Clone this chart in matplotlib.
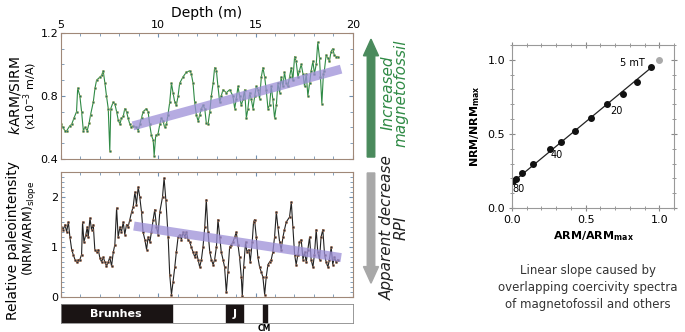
import numpy as np
import matplotlib.pyplot as plt
from matplotlib.ticker import MultipleLocator
from matplotlib.patches import FancyArrow

# kARM/SIRM vs depth
top_depth = [5.00, 5.10, 5.20, 5.30, 5.45, 5.55, 5.67, 5.80, 5.86, 5.97, 6.06, 6.15, 6.23, 6.35,
             6.45, 6.52, 6.66, 6.75, 6.83, 7.00, 7.09, 7.17, 7.26, 7.34, 7.43, 7.51, 7.56, 7.68,
             7.77, 7.86, 7.94, 8.03, 8.11, 8.20, 8.28, 8.37, 8.45, 8.54, 8.62, 8.71, 8.88, 8.97,
             9.05, 9.14, 9.22, 9.39, 9.48, 9.56, 9.65, 9.74, 9.79, 9.87, 9.99, 10.08, 10.16,
             10.25, 10.33, 10.42, 10.50, 10.59, 10.68, 10.76, 10.85, 10.93, 11.02, 11.10, 11.27,
             11.44, 11.62, 11.70, 11.79, 11.87, 11.96, 12.05, 12.13, 12.22, 12.30, 12.39, 12.47,
             12.56, 12.65, 12.73, 12.82, 12.90, 12.99, 13.07, 13.16, 13.24, 13.33, 13.50, 13.67,
             13.84, 13.93, 14.01, 14.10, 14.18, 14.27, 14.36, 14.44, 14.53, 14.61, 14.70, 14.78,
             14.87, 14.96, 15.04, 15.13, 15.21, 15.30, 15.38, 15.47, 15.55, 15.64, 15.72, 15.81,
             15.89, 15.98, 16.07, 16.15, 16.24, 16.32, 16.41, 16.49, 16.58, 16.66, 16.75, 16.84,
             16.92, 17.01, 17.09, 17.18, 17.26, 17.35, 17.44, 17.52, 17.61, 17.69, 17.78, 17.86,
             17.95, 18.03, 18.12, 18.20, 18.29, 18.34, 18.41, 18.49, 18.54, 18.63, 18.71, 18.80,
             18.88, 18.97, 19.05, 19.14, 19.22]
top_val = [0.62, 0.60, 0.58, 0.58, 0.61, 0.62, 0.66, 0.70, 0.85, 0.80, 0.70, 0.58, 0.60, 0.58,
           0.63, 0.68, 0.76, 0.85, 0.90, 0.92, 0.93, 0.96, 0.88, 0.80, 0.72, 0.45, 0.72, 0.76,
           0.75, 0.70, 0.65, 0.62, 0.66, 0.67, 0.72, 0.70, 0.66, 0.62, 0.60, 0.61, 0.60, 0.58,
           0.62, 0.66, 0.70, 0.72, 0.70, 0.62, 0.55, 0.52, 0.42, 0.55, 0.56, 0.62, 0.66,
           0.64, 0.60, 0.62, 0.68, 0.76, 0.88, 0.82, 0.76, 0.74, 0.80, 0.88, 0.92,
           0.95, 0.96, 0.94, 0.88, 0.76, 0.68, 0.64, 0.68, 0.72, 0.74, 0.72, 0.63,
           0.62, 0.70, 0.80, 0.88, 0.98, 0.96, 0.86, 0.76, 0.80, 0.84, 0.82, 0.84,
           0.80, 0.72, 0.78, 0.86, 0.80, 0.74, 0.78, 0.84, 0.66, 0.72, 0.82, 0.78,
           0.72, 0.80, 0.86, 0.84, 0.78, 0.92, 0.98, 0.92, 0.84, 0.72, 0.74, 0.86,
           0.78, 0.66, 0.74, 0.88, 0.82, 0.92, 0.86, 0.95, 0.88, 0.86, 0.92, 0.98,
           0.90, 1.05, 1.02, 0.92, 0.96, 1.00, 0.94, 0.86, 0.94, 0.80, 0.88, 0.96,
           1.02, 0.94, 1.00, 1.14, 1.04, 0.92, 0.75, 0.94, 0.96, 1.06, 1.04, 1.02,
           1.08, 1.10, 1.06, 1.05, 1.05]

# relative paleointensity vs depth
rpi_depth = [5.00, 5.12, 5.21, 5.29, 5.38, 5.46, 5.55, 5.63, 5.72, 5.80, 5.89, 5.97, 6.06, 6.11,
             6.18, 6.28, 6.35, 6.40, 6.49, 6.57, 6.66, 6.74, 6.83, 6.92, 7.00, 7.09, 7.17, 7.26,
             7.34, 7.43, 7.51, 7.60, 7.69, 7.77, 7.86, 7.94, 8.03, 8.11, 8.20, 8.28, 8.37, 8.45,
             8.54, 8.63, 8.71, 8.80, 8.88, 8.97, 9.05, 9.14, 9.22, 9.31, 9.40, 9.48, 9.57, 9.65,
             9.74, 9.82, 9.91, 9.99, 10.08, 10.22, 10.30, 10.39, 10.51, 10.59, 10.68, 10.76,
             10.85, 10.93, 11.02, 11.11, 11.19, 11.28, 11.36, 11.45, 11.53, 11.62, 11.70, 11.79,
             11.88, 11.96, 12.05, 12.13, 12.22, 12.30, 12.39, 12.47, 12.56, 12.65, 12.73, 12.82,
             12.90, 12.99, 13.07, 13.16, 13.24, 13.33, 13.41, 13.50, 13.58, 13.67, 13.76, 13.84,
             13.93, 14.01, 14.10, 14.18, 14.27, 14.32, 14.39, 14.49, 14.56, 14.66, 14.73, 14.83,
             14.90, 14.95, 15.04, 15.12, 15.21, 15.30, 15.38, 15.47, 15.55, 15.64, 15.72, 15.81,
             15.89, 15.98, 16.07, 16.15, 16.24, 16.32, 16.41, 16.49, 16.58, 16.75, 16.84, 16.92,
             17.01, 17.09, 17.18, 17.26, 17.35, 17.44, 17.52, 17.61, 17.69, 17.78, 17.86, 17.95,
             18.03, 18.12, 18.20, 18.29, 18.37, 18.46, 18.55, 18.63, 18.72, 18.80, 18.89, 18.97,
             19.06, 19.14, 19.23]
rpi_val = [1.40, 1.35, 1.45, 1.30, 1.50, 1.20, 0.95, 0.85, 0.75, 0.70, 0.75, 0.75, 0.85, 1.50,
           1.10, 1.25, 1.40, 1.20, 1.58, 1.35, 1.45, 0.95, 0.90, 0.95, 0.78, 0.70, 0.80, 0.70,
           0.62, 0.70, 0.80, 0.62, 0.90, 1.05, 1.78, 1.20, 1.40, 1.30, 1.50, 1.25, 1.45, 1.40,
           1.55, 1.70, 1.80, 2.10, 1.85, 2.20, 2.00, 1.70, 1.30, 1.15, 0.95, 1.20, 1.10, 1.30,
           1.55, 1.75, 1.40, 1.25, 1.70, 2.00, 2.38, 1.95, 1.20, 0.45, 0.05, 0.30,
           0.60, 0.90, 1.20, 1.25, 1.15, 1.30, 1.20, 1.30, 1.15, 1.10, 1.00, 0.90,
           0.80, 0.90, 0.75, 0.60, 0.75, 1.00, 1.40, 1.95, 1.30, 0.90, 0.75, 0.65,
           0.75, 1.00, 1.55, 1.20, 0.90, 0.75, 0.60, 0.10, 0.50, 1.00, 1.05, 1.10,
           1.20, 1.30, 1.05, 0.80, 0.40, 0.02, 0.60, 1.10, 0.90, 0.95, 0.70, 1.10,
           1.50, 1.55, 1.20, 0.80, 0.60, 0.50, 0.40, 0.05, 0.40, 0.65, 0.70, 0.75,
           0.90, 1.20, 1.70, 1.40, 1.10, 0.95, 1.20, 1.35, 1.50, 1.60, 1.90, 1.40,
           0.85, 0.65, 0.85, 1.10, 1.15, 0.75, 0.90, 0.70, 0.95, 1.20, 0.75, 0.60,
           0.85, 1.35, 0.90, 0.75, 1.20, 1.35, 0.85, 0.70, 0.60, 0.75, 1.00, 0.65,
           0.80, 0.70, 0.75]

# trend bands (start/end)
top_trend_depth = [8.7, 19.4]
top_trend_val = [0.61, 0.97]
rpi_trend_depth = [8.75, 19.4]
rpi_trend_val = [1.42, 0.79]

# polarity chrons
chron_names = ["Brunhes", "J", "CM"]
chron_start = [5.0, 13.47, 15.37]
chron_end = [10.7, 14.35, 15.57]

# NRM-ARM demagnetisation plot
arm = [0.005, 0.03, 0.07, 0.143, 0.26, 0.336, 0.43, 0.54, 0.646, 0.755, 0.848, 0.943]
nrm = [0.18, 0.197, 0.238, 0.30, 0.40, 0.448, 0.518, 0.604, 0.70, 0.77, 0.848, 0.95]
arm_excl = [1.0]
nrm_excl = [1.0]
fit_x = [0.0, 0.943]
fit_y = [0.17, 0.945]

spine_col = "#a08878"
green = "#2f8a45"
band_col = "#9c8fd8"

fig = plt.figure(figsize=(6.85, 3.32), dpi=100)

# ---- top panel
ax1 = fig.add_axes([0.089, 0.521, 0.426, 0.380])
ax1.plot(top_trend_depth, top_trend_val, color=band_col, lw=6.5, alpha=0.75,
         solid_capstyle="butt", zorder=3)
ax1.plot(top_depth, top_val, color=green, lw=0.8, marker="o", ms=1.8,
         mfc="#1f6f6a", mec="#c8c060", mew=0.3, zorder=2)
ax1.set_xlim(5, 20)
ax1.set_ylim(0.4, 1.2)
ax1.xaxis.tick_top()
ax1.xaxis.set_label_position("top")
ax1.set_xlabel("Depth (m)", fontsize=10, labelpad=2)
ax1.set_xticks([5, 10, 15, 20])
ax1.xaxis.set_minor_locator(MultipleLocator(1))
ax1.set_yticks([0.4, 0.8, 1.2])
ax1.yaxis.set_minor_locator(MultipleLocator(0.1))
ax1.tick_params(which="both", direction="in", top=True, bottom=True, left=True, right=True,
                labelsize=8, color="#7090b0", pad=2)
ax1.tick_params(which="major", length=3)
ax1.tick_params(which="minor", length=2)
ax1.text(-0.158, 0.5, "$\\it{k}$ARM/SIRM", transform=ax1.transAxes, rotation=90,
         ha="center", va="center", fontsize=10)
ax1.text(-0.105, 0.5, "(x10$^{-3}$ m/A)", transform=ax1.transAxes, rotation=90,
         ha="center", va="center", fontsize=8)
for s in ax1.spines.values():
    s.set_color(spine_col)

# ---- bottom panel
ax2 = fig.add_axes([0.089, 0.105, 0.426, 0.377])
ax2.plot(rpi_trend_depth, rpi_trend_val, color=band_col, lw=6.5, alpha=0.75,
         solid_capstyle="butt", zorder=3)
ax2.plot(rpi_depth, rpi_val, color="#222222", lw=0.8, marker="o", ms=1.8,
         mfc="#203040", mec="#d08050", mew=0.3, zorder=2)
ax2.set_xlim(5, 20)
ax2.set_ylim(0, 2.5)
ax2.set_xticks([5, 10, 15, 20])
ax2.xaxis.set_minor_locator(MultipleLocator(1))
ax2.set_xticklabels([])
ax2.set_yticks([0, 1, 2])
ax2.yaxis.set_minor_locator(MultipleLocator(0.1))
ax2.tick_params(which="both", direction="in", top=True, bottom=True, left=True, right=True,
                labelsize=8, color="#7090b0", pad=2)
ax2.tick_params(which="major", length=3)
ax2.tick_params(which="minor", length=2)
ax2.text(-0.165, 0.45, "Relative paleointensity", transform=ax2.transAxes, rotation=90,
         ha="center", va="center", fontsize=10)
ax2.text(-0.105, 0.55, "(NRM/ARM)$_{\\rm slope}$", transform=ax2.transAxes, rotation=90,
         ha="center", va="center", fontsize=9)
for s in ax2.spines.values():
    s.set_color(spine_col)

# ---- chron bar
ax3 = fig.add_axes([0.089, 0.027, 0.426, 0.057])
ax3.set_xlim(5, 20)
ax3.set_ylim(0, 1)
for name, a, b in zip(chron_names, chron_start, chron_end):
    ax3.axvspan(a, b, color="#1a1414")
    if name == "CM":
        ax3.text((a + b) / 2, -0.05, name, ha="center", va="top", fontsize=5.5, weight="bold")
    else:
        xc = 7.8 if name == "Brunhes" else (a + b) / 2
        ax3.text(xc, 0.5, name, ha="center", va="center", color="white",
                 fontsize=8, weight="bold")
ax3.set_xticks([])
ax3.set_yticks([])
for s in ax3.spines.values():
    s.set_color("#888888")
    s.set_linewidth(0.6)

# ---- arrows and their labels
fig.patches.append(FancyArrow(0.5416, 0.527, 0, 0.355, width=0.011, head_width=0.022,
                              head_length=0.05, length_includes_head=True,
                              color="#4a8a5c", transform=fig.transFigure, figure=fig))
fig.patches.append(FancyArrow(0.5416, 0.479, 0, -0.332, width=0.011, head_width=0.022,
                              head_length=0.05, length_includes_head=True,
                              color="#a8a8a8", transform=fig.transFigure, figure=fig))
fig.text(0.576, 0.72, "Increased\nmagnetofossil", rotation=90, ha="center", va="center",
         fontsize=11, style="italic", color=green, linespacing=0.9)
fig.text(0.576, 0.315, "Apparent decrease\nRPI", rotation=90, ha="center", va="center",
         fontsize=11, style="italic", color="#222222", linespacing=0.9)

# ---- NRM/ARM plot
ax4 = fig.add_axes([0.7474, 0.3735, 0.2365, 0.491])
ax4.plot(fit_x, fit_y, color="#222222", lw=0.9)
ax4.plot(arm, nrm, "o", color="#111111", ms=4)
ax4.plot(arm_excl, nrm_excl, "o", color="#aaaaaa", ms=4)
ax4.set_xlim(0, 1.1)
ax4.set_ylim(0, 1.1)
ax4.set_xticks([0, 0.5, 1.0])
ax4.set_yticks([0, 0.5, 1.0])
ax4.set_xticklabels(["0.0", "0.5", "1.0"])
ax4.set_yticklabels(["0.0", "0.5", "1.0"])
ax4.xaxis.set_minor_locator(MultipleLocator(0.1))
ax4.yaxis.set_minor_locator(MultipleLocator(0.1))
ax4.tick_params(which="both", direction="inout", top=True, right=True, labelsize=8,
                color="#888888", pad=3)
ax4.tick_params(which="major", length=4)
ax4.tick_params(which="minor", length=3)
ax4.set_xlabel("ARM/ARM$_{\\mathbf{max}}$", fontsize=8, weight="bold", labelpad=3)
ax4.set_ylabel("NRM/NRM$_{\\mathbf{max}}$", fontsize=8, weight="bold", labelpad=4)
for s in ax4.spines.values():
    s.set_color("#999999")
ax4.text(0.82, 0.98, "5 mT", fontsize=7, ha="center", va="center")
ax4.text(0.665, 0.655, "20", fontsize=7, ha="left", va="center")
ax4.text(0.26, 0.355, "40", fontsize=7, ha="left", va="center")
ax4.text(0.005, 0.125, "80", fontsize=7, ha="left", va="center")
fig.text(0.858, 0.135, "Linear slope caused by\noverlapping coercivity spectra\nof magnetofossil and others",
         ha="center", va="center", fontsize=8.5, linespacing=1.4, color="#333333")

fig.savefig("out.png", dpi=100)
